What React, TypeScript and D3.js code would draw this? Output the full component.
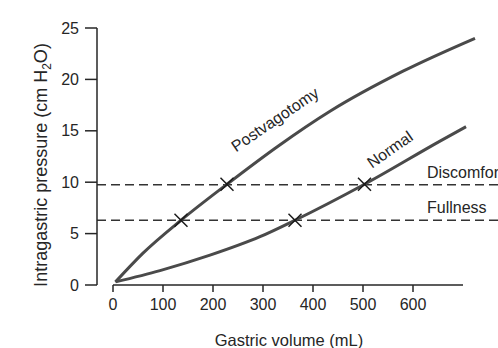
import * as d3 from "d3";

// Pressure-volume curves (mL, cm H2O)
const postvagotomy: [number, number][] = [
  [5, 0.3], [60, 3.1], [136, 6.3], [228, 9.8], [330, 13.5],
  [434, 16.9], [580, 20.8], [724, 24.0],
];
const normal: [number, number][] = [
  [5, 0.3], [94, 1.4], [194, 2.9], [294, 4.7], [364, 6.3],
  [503, 9.8], [654, 14.0], [706, 15.4],
];
const markers: [number, number][] = [
  [136, 6.3], [228, 9.8], [364, 6.3], [503, 9.8],
];
const thresholds = [
  { label: "Discomfort", value: 9.75 },
  { label: "Fullness", value: 6.3 },
];
const xTickValues = [0, 100, 200, 300, 400, 500, 600];
const yTickValues = [0, 5, 10, 15, 20, 25];

export default function App() {
  const width = 498;
  const height = 348;

  const xScale = d3.scaleLinear().domain([0, 700]).range([113, 463]);
  const yScale = d3.scaleLinear().domain([0, 25]).range([285, 28]);
  const yAxisX = 97;

  const line = d3
    .line<[number, number]>()
    .x((d) => xScale(d[0]))
    .y((d) => yScale(d[1]))
    .curve(d3.curveMonotoneX);

  const ink = "#262626";
  const font = "'Liberation Sans', Arial, sans-serif";
  const fs = 16;

  return (
    <svg
      width={width}
      height={height}
      style={{ position: "absolute", left: 0, top: 0, background: "#fff" }}
      fontFamily={font}
    >
      {/* Threshold lines; the reference crops the "Discomfort" label at the right edge */}
      {thresholds.map((t) => (
        <g key={t.label}>
          <line
            x1={yAxisX}
            x2={width}
            y1={yScale(t.value)}
            y2={yScale(t.value)}
            stroke="#333"
            strokeWidth={1.4}
            strokeDasharray="9 5"
          />
          <text x={xScale(628)} y={yScale(t.value) - 7} fontSize={fs} fill={ink}>
            {t.label}
          </text>
        </g>
      ))}

      {/* Curves */}
      {[postvagotomy, normal].map((s, i) => (
        <path
          key={i}
          d={line(s) || ""}
          fill="none"
          stroke="#4a4a4a"
          strokeWidth={3}
        />
      ))}

      {/* Curve labels */}
      <text
        transform={`translate(${xScale(246)}, ${yScale(12.9)}) rotate(-34)`}
        fontSize={fs}
        fill={ink}
      >
        Postvagotomy
      </text>
      <text
        transform={`translate(${xScale(518)}, ${yScale(11.3)}) rotate(-35)`}
        fontSize={fs}
        fill={ink}
      >
        Normal
      </text>

      {/* X markers */}
      {markers.map(([mx, my], i) => {
        const cx = xScale(mx);
        const cy = yScale(my);
        const r = 6.5;
        return (
          <g key={i} stroke="#1a1a1a" strokeWidth={1.5}>
            <line x1={cx - r} y1={cy - r} x2={cx + r} y2={cy + r} />
            <line x1={cx - r} y1={cy + r} x2={cx + r} y2={cy - r} />
          </g>
        );
      })}

      {/* Y axis */}
      <line x1={yAxisX} x2={yAxisX} y1={yScale(25)} y2={yScale(0)} stroke={ink} strokeWidth={1.5} />
      {yTickValues.map((v) => (
        <g key={v}>
          <line x1={yAxisX - 12} x2={yAxisX} y1={yScale(v)} y2={yScale(v)} stroke={ink} strokeWidth={1.5} />
          <text
            x={79}
            y={yScale(v)}
            textAnchor="end"
            dominantBaseline="central"
            fontSize={fs}
            fill={ink}
          >
            {v}
          </text>
        </g>
      ))}

      {/* X axis */}
      <line x1={xScale(0)} x2={xScale(700)} y1={285} y2={285} stroke={ink} strokeWidth={1.5} />
      {xTickValues.map((v) => (
        <g key={v}>
          <line x1={xScale(v)} x2={xScale(v)} y1={285} y2={292} stroke={ink} strokeWidth={1.5} />
          <text x={xScale(v)} y={310} textAnchor="middle" fontSize={fs} fill={ink}>
            {v}
          </text>
        </g>
      ))}

      {/* Axis titles */}
      <text x={289} y={346} textAnchor="middle" fontSize={16.5} fill={ink}>
        Gastric volume (mL)
      </text>
      <text
        transform={`translate(47, 165) rotate(-90)`}
        textAnchor="middle"
        fontSize={18}
        fill={ink}
      >
        Intragastric pressure (cm H
        <tspan fontSize={12} dy={4}>2</tspan>
        <tspan dy={-4}>O)</tspan>
      </text>
    </svg>
  );
}
